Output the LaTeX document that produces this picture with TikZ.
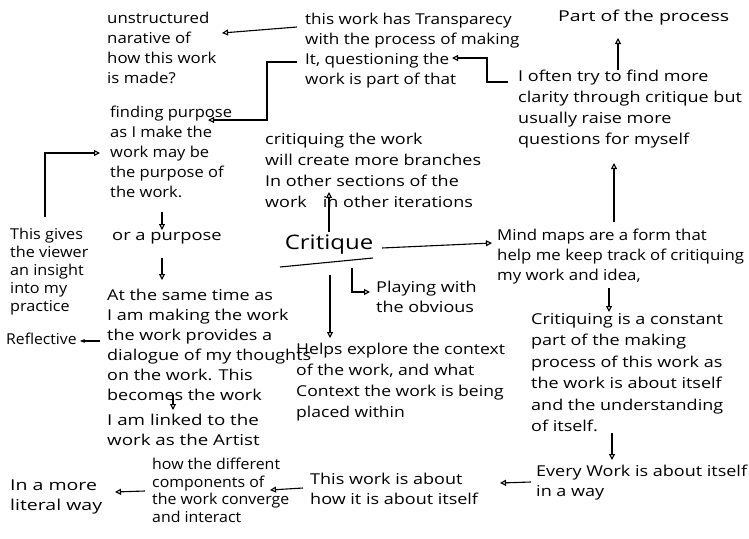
\documentclass[tikz,border=0pt]{standalone}
\usepackage{fontspec}
\setmainfont{Open Sans}
\newcommand\hwfont[2]{\fontsize{15}{#2}\selectfont\addfontfeatures{FakeStretch=#1}}
\usetikzlibrary{arrows.meta,calc}
\begin{document}
\begin{tikzpicture}[x=1pt,y=-1pt,
  txt/.style={anchor=north west,align=left,inner sep=0pt,font=\hwfont{#1}{20}},
  txt/.default=1.2,
  arr/.style={-{Triangle[open,length=6pt,width=6pt]},line width=1.1pt},
  ln/.style={line width=1.1pt}]
\fill[white] (0,0) rectangle (749,538);
\useasboundingbox (0,0) rectangle (749,538);
% nodes
\node[txt=1.12] (unstr) at (107,12) {unstructured\\narative of\\how this work\\is made?};
\node[txt=1.14] (transp) at (305,13) {this work has Transparecy\\with the process of making\\It, questioning the\\work is part of that};
\node[txt=1.3] (partof) at (558,10) {Part of the process};
\node[txt,font=\hwfont{1.2}{21}] (often) at (518,70) {I often try to find more\\clarity through critique but\\usually raise more\\questions for myself};
\node[txt=1.1] (finding) at (110,106) {finding purpose\\as I make the\\work may be\\the purpose of\\the work.};
\node[txt=1.22] (orpurpose) at (112,232) {or a purpose};
\node[txt] (atsame) at (107,289) {At the same time as\\I am making the work\\the work provides a\\dialogue of my thoughts\\on the work. This\\becomes the work};
\node[txt=1.25] (linked) at (107,414) {I am linked to the\\work as the Artist};
\node[txt=1.05] (reflective) at (6,333) {Reflective};
\node[txt,font=\hwfont{1.08}{18}] (gives) at (10,228) {This gives\\the viewer\\an insight\\into my\\practice};
\node[anchor=center,inner sep=0pt,font=\fontsize{20}{24}\selectfont\addfontfeatures{FakeStretch=1.2}] (critique) at (329,245) {Critique};
\node[txt,font=\hwfont{1.2}{21}] (branches) at (265,133) {critiquing the work\\will create more branches\\In other sections of the\\work\hspace{16pt}in other iterations};
\node[txt] (playing) at (376,281) {Playing with\\the obvious};
\node[txt,font=\hwfont{1.17}{21}] (helps) at (296,343) {Helps explore the context\\of the work, and what\\Context the work is being\\placed within};
\node[txt=1.12] (mindmaps) at (497,229) {Mind maps are a form that\\help me keep track of critiquing\\my work and idea,};
\node[txt,font=\hwfont{1.2}{21.5}] (critiquing) at (531,313) {Critiquing is a constant\\part of the making\\process of this work as\\the work is about itself\\and the understanding\\of itself.};
\node[txt=1.2] (every) at (536,465) {Every Work is about itself\\in a way};
\node[txt] (thiswork) at (310,473) {This work is about\\how it is about itself};
\node[txt,font=\hwfont{1.06}{17.5}] (howdiff) at (152,458) {how the different\\components of\\the work converge\\and interact};
\node[txt=1.3] (literal) at (10,480) {In a more\\literal way};
% connectors
\draw[arr] ([xshift=-8pt]transp.west |- 0,27) -- (222,33);
\draw[arr] ([xshift=-8pt]transp.west |- 0,62) -- (267,62) |- (208,120);
\draw[arr] ([xshift=-10pt]often.west |- 0,82) -- (487,82) |- (452,58);
\draw[arr] (often.north -| 618,0) -- (618,38);
\draw[arr] (614,222) -- (614,163);
\draw[arr] (609,288) -- (609,312);
\draw[arr] (612,433) -- (612,460);
\draw[arr] ([xshift=-5pt]every.west |- 0,482) -- (500,483);
\draw[arr] ([xshift=-7pt]thiswork.west |- 0,488) -- (270,490);
\draw[arr] ([xshift=-7pt]howdiff.west |- 0,491) -- (115,492);
\draw[arr] (162,212) -- (162,230);
\draw[arr] (162,258) -- (162,280);
\draw[arr] (173,395) -- (173,410);
\draw[-{Stealth[length=5pt,width=4pt]},line width=1.1pt] ([xshift=-7pt]atsame.west |- 0,341) -- (80,341);
\draw[arr] (45,217) |- ([xshift=-10pt]finding.west |- 0,153);
\draw[arr] (critique.north |- 0,232) -- (critique.north |- 0,192);
\draw[arr] (382,248) -- ([xshift=-5pt]mindmaps.west |- 0,243);
\draw[arr] (330,275) -- ([yshift=5pt]helps.north -| 330,0);
\draw[arr] (352,268) |- ([xshift=-6pt]playing.west |- 0,292);
\draw[ln] (280,267) -- (373,258);
\end{tikzpicture}
\end{document}
